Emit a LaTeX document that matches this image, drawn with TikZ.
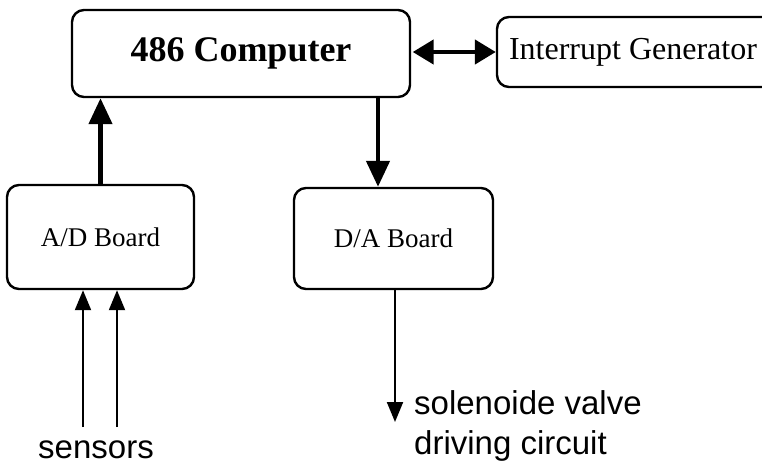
\documentclass[tikz,border=0pt]{standalone}
\usepackage{fontspec}
\setmainfont{Liberation Serif}
\setsansfont{Liberation Sans}
\usetikzlibrary{arrows.meta}
\usetikzlibrary{positioning}
\tikzset{board/.style = {draw, rounded corners=12pt, line width=2.4pt, inner sep=0}}
\tikzset{bigarrow/.style = {line width=4.5pt, -{Triangle[width=23pt,length=26pt]}}}
\tikzset{thinarrow/.style = {line width=2pt, -{Triangle[width=16pt,length=20pt]}}}

\begin{document}
\begin{tikzpicture}[x=1pt,y=-1pt]
            \useasboundingbox (0,0) rectangle (762,467);
            \clip (0,0) rectangle (762,467);
            \node [board, minimum width=290pt, minimum height=70pt, font=\fontsize{32}{38}\selectfont] (intgen) at (642,52) {\hspace*{-18pt}Interrupt Generator};
            \node [board, minimum width=338pt, minimum height=87pt, font=\fontsize{36}{40}\selectfont\bfseries] (comp) at (241,53.5) {486 Computer};
            \node [board, minimum width=187pt, minimum height=104pt, font=\fontsize{27}{30}\selectfont] (adb) at (100.5,237) {A/D Board};
            \node [board, minimum width=199pt, minimum height=101pt, font=\fontsize{27}{30}\selectfont] (dab) at (393.5,238.5) {D/A Board};
            \coordinate (dain) at (378,0);
            \coordinate (s1) at (83,427);
            \coordinate (s2) at (117,427);
            \coordinate (dout) at (395,422);
            \draw [bigarrow] (adb.north) -- (adb.north |- comp.south);
            \draw [bigarrow] (comp.south -| dain) -- (dab.north -| dain);
            \draw [line width=4.5pt, {Triangle[width=24pt,length=21pt]}-{Triangle[width=24pt,length=21pt]}] (comp.east) ++(1.5,-1.5) coordinate (l) (l) -- (l -| intgen.west);
            \draw [thinarrow] (s1) -- (s1 |- adb.south);
            \draw [thinarrow] (s2) -- (s2 |- adb.south);
            \draw [thinarrow] (dab.south -| dout) -- (dout);
            \node [anchor=base, inner sep=0, font=\sffamily\fontsize{33}{40}\selectfont] (sens) at (96,458) {sensors};
            \node [anchor=north west, align=left, inner sep=0, font=\sffamily\fontsize{33}{40}\selectfont] (valve) at (414,390) {solenoide valve\\driving circuit};
        \end{tikzpicture}
\end{document}
